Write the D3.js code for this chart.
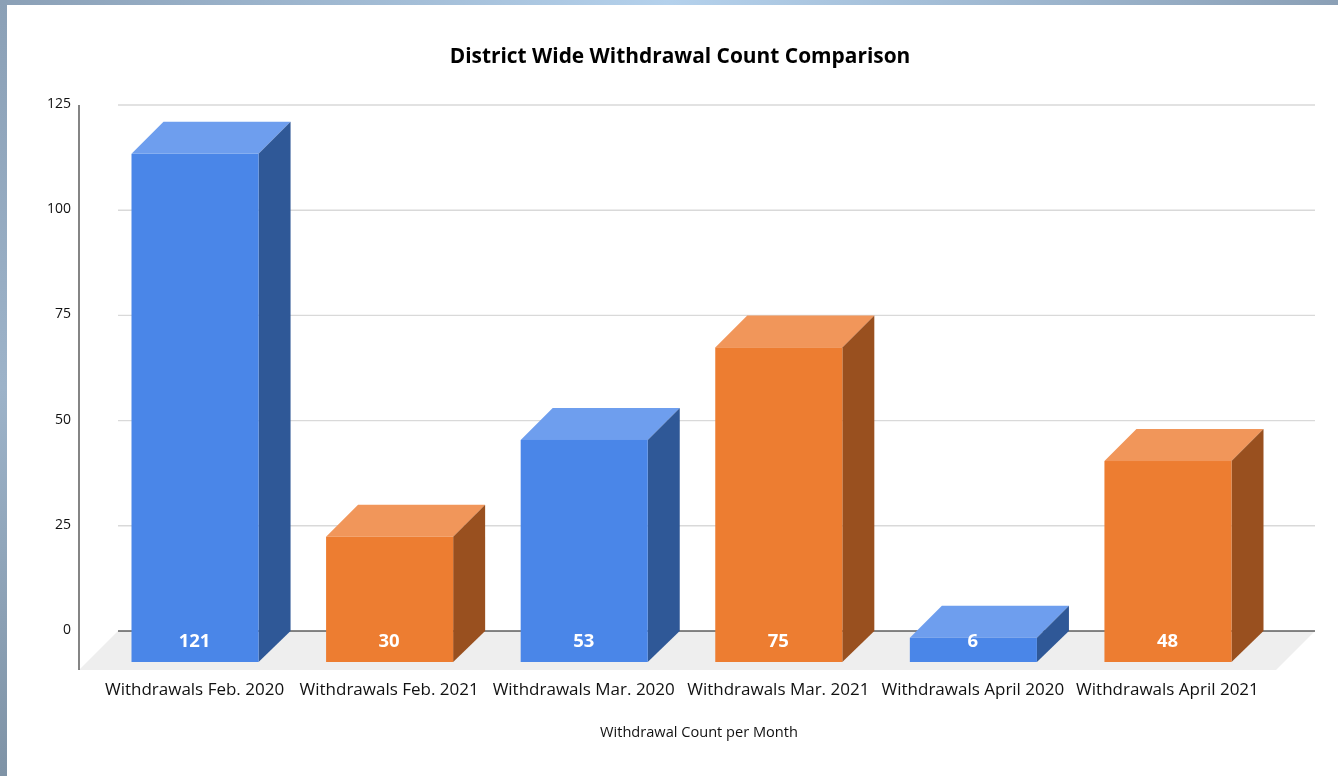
<!DOCTYPE html>
<html>
<head>
<meta charset="utf-8">
<script src="https://unpkg.com/d3@7/dist/d3.min.js"></script>
<style>
  html, body { margin: 0; padding: 0; background: #fff; }
  svg { display: block; filter: blur(0.35px); }
  text { font-family: "Open Sans", "Noto Sans", sans-serif; fill: #111; }
</style>
</head>
<body>
<div id="chart"></div>
<script>
var categories = [
  "Withdrawals Feb. 2020",
  "Withdrawals Feb. 2021",
  "Withdrawals Mar. 2020",
  "Withdrawals Mar. 2021",
  "Withdrawals April 2020",
  "Withdrawals April 2021",
];
var years = ["2020", "2021", "2020", "2021", "2020", "2021"];
var counts = [121, 30, 53, 75, 6, 48];
var yTicks = [0, 25, 50, 75, 100, 125];

var width = 1338,
  height = 776,
  depth = 32; // 3d offset of the bar boxes

var svg = d3
  .select("#chart")
  .append("svg")
  .attr("width", width)
  .attr("height", height);

// window frame behind the chart
var defs = svg.append("defs");
var topGrad = defs.append("linearGradient").attr("id", "frameTop");
topGrad.append("stop").attr("offset", "0%").attr("stop-color", "#8ba0b6");
topGrad.append("stop").attr("offset", "50%").attr("stop-color", "#b4d1ec");
topGrad.append("stop").attr("offset", "100%").attr("stop-color", "#8ba0b6");
var leftGrad = defs
  .append("linearGradient")
  .attr("id", "frameLeft")
  .attr("x1", 0)
  .attr("y1", 0)
  .attr("x2", 0)
  .attr("y2", 1);
leftGrad.append("stop").attr("offset", "0%").attr("stop-color", "#8ba0b6");
leftGrad.append("stop").attr("offset", "50%").attr("stop-color", "#9db3c9");
leftGrad.append("stop").attr("offset", "100%").attr("stop-color", "#7f93a6");

svg.append("rect").attr("width", width).attr("height", 5).attr("fill", "url(#frameTop)");
svg.append("rect").attr("width", 7).attr("height", height).attr("fill", "url(#frameLeft)");

// scales
var x = d3
  .scaleBand()
  .domain(d3.range(categories.length))
  .range([131.5, 1231.5])
  .paddingInner(0.347)
  .paddingOuter(0);

var y = d3.scaleLinear().domain([0, 125]).range([631, 105]);

var color = d3.scaleOrdinal().domain(["2020", "2021"]).range(["#4a86e8", "#ed7d31"]);
var colorTop = d3.scaleOrdinal().domain(["2020", "2021"]).range(["#6e9eee", "#f1965a"]);
var colorSide = d3.scaleOrdinal().domain(["2020", "2021"]).range(["#2f5897", "#99501f"]);

var floorBottom = y(0) + 39;
var gridLeft = 118,
  gridRight = 1315;

// floor
svg
  .append("path")
  .attr("fill", "#eeeeee")
  .attr(
    "d",
    "M" + gridLeft + "," + y(0) +
      "L" + gridRight + "," + y(0) +
      "L" + (gridRight - 39) + "," + floorBottom +
      "L" + (gridLeft - 39) + "," + floorBottom + "Z"
  );

// gridlines
svg
  .selectAll(".grid")
  .data(yTicks)
  .join("line")
  .attr("class", "grid")
  .attr("x1", gridLeft)
  .attr("x2", gridRight)
  .attr("y1", function (d) { return y(d); })
  .attr("y2", function (d) { return y(d); })
  .attr("stroke", function (d) { return d === 0 ? "#111" : "#d9d9d9"; })
  .attr("stroke-width", function (d) { return d === 0 ? 1.2 : 1.4; });

// y axis
var yAxis = svg
  .append("g")
  .attr("transform", "translate(79,1)")
  .call(d3.axisLeft(y).tickValues(yTicks).tickSize(0).tickPadding(8));
yAxis.select(".domain").remove();
yAxis.selectAll("text")
  .attr("dy", "0.1em")
  .style("font-size", "14px")
  .style("fill", "#111");
svg
  .append("line")
  .attr("x1", 79)
  .attr("x2", 79)
  .attr("y1", y(125))
  .attr("y2", floorBottom)
  .attr("stroke", "#333")
  .attr("stroke-width", 1.2);

// x axis labels
var xAxis = svg
  .append("g")
  .attr("transform", "translate(-0.5,677.5)")
  .call(
    d3.axisBottom(x)
      .tickFormat(function (i) { return categories[i]; })
      .tickSize(0)
      .tickPadding(5)
  );
xAxis.select(".domain").remove();
xAxis.selectAll("text").style("font-size", "17px").style("fill", "#111");

// bars: front face, top and side
var bars = svg
  .selectAll(".bar")
  .data(counts)
  .join("g")
  .attr("class", "bar");

bars
  .append("path")
  .attr("fill", function (d, i) { return colorTop(years[i]); })
  .attr("d", function (d, i) {
    var x0 = x(i), x1 = x0 + x.bandwidth(), t = y(d);
    return "M" + x0 + "," + (t + depth) + "L" + (x0 + depth) + "," + t +
      "L" + (x1 + depth) + "," + t + "L" + x1 + "," + (t + depth) + "Z";
  });

bars
  .append("path")
  .attr("fill", function (d, i) { return colorSide(years[i]); })
  .attr("d", function (d, i) {
    var x1 = x(i) + x.bandwidth(), t = y(d), b = y(0);
    return "M" + x1 + "," + (t + depth) + "L" + (x1 + depth) + "," + t +
      "L" + (x1 + depth) + "," + b + "L" + x1 + "," + (b + depth - 1) + "Z";
  });

bars
  .append("rect")
  .attr("fill", function (d, i) { return color(years[i]); })
  .attr("x", function (d, i) { return x(i); })
  .attr("width", x.bandwidth())
  .attr("y", function (d) { return y(d) + depth; })
  .attr("height", function (d) { return y(0) - y(d) - 1; });

// value labels
bars
  .append("text")
  .attr("x", function (d, i) { return x(i) + x.bandwidth() / 2 - 0.5; })
  .attr("y", y(0) + 16)
  .attr("text-anchor", "middle")
  .style("font-size", "18.5px")
  .style("font-weight", "700")
  .style("fill", "#fff")
  .text(function (d) { return d; });

// titles
svg
  .append("text")
  .attr("x", 680)
  .attr("y", 63)
  .attr("text-anchor", "middle")
  .style("font-size", "20.9px")
  .style("font-weight", "700")
  .style("fill", "#000")
  .text("District Wide Withdrawal Count Comparison");

svg
  .append("text")
  .attr("x", 699)
  .attr("y", 737)
  .attr("text-anchor", "middle")
  .style("font-size", "14.6px")
  .text("Withdrawal Count per Month");
</script>
</body>
</html>
